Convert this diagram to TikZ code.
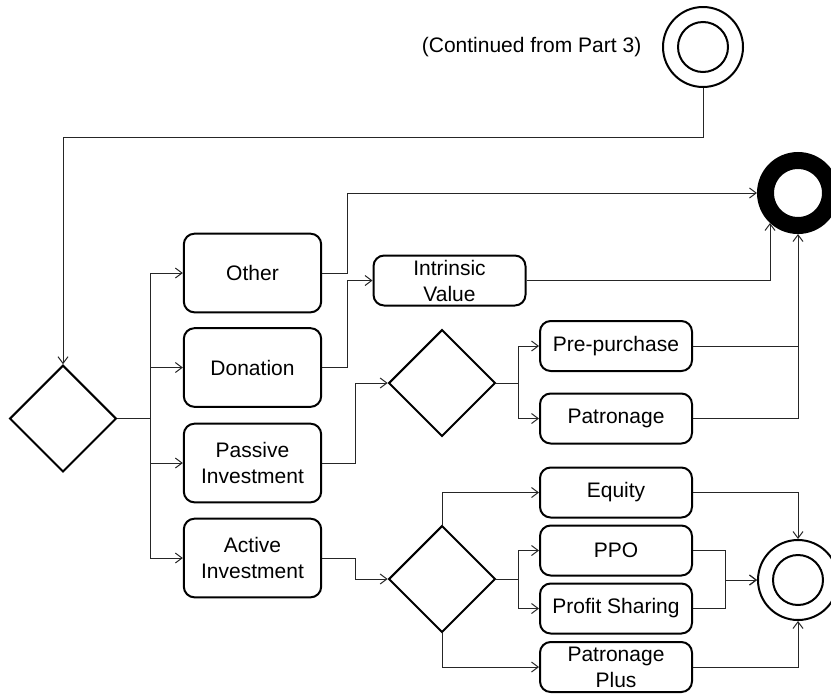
\documentclass[tikz,border=0pt]{standalone}
\usepackage{fontspec}
\setmainfont{Liberation Sans}
\usetikzlibrary{shapes.geometric,arrows.meta,positioning}

\newcommand{\flowfont}{\fontsize{15.75}{19.5}\selectfont}

\tikzset{
  bigbox/.style={draw,line width=1.5pt,rounded corners=8pt,align=center,inner sep=0pt,
    minimum width=103pt,minimum height=59pt,font=\flowfont},
  smallbox/.style={draw,line width=1.5pt,rounded corners=8pt,align=center,inner sep=0pt,
    minimum width=114pt,minimum height=37.5pt,font=\flowfont},
  gate/.style={draw,diamond,aspect=1,line width=1.5pt,inner sep=0pt,minimum width=80pt,minimum height=80pt},
  ringout/.style={draw,circle,line width=1.5pt,inner sep=0pt,minimum size=60pt},
  ringin/.style={draw,circle,line width=1.5pt,inner sep=0pt,minimum size=37.5pt},
  conn/.style={line width=0.75pt,draw=black!85},
  arr/.style={conn,-{Straight Barb[length=5pt,width=7.5pt]}}
}

\begin{document}
\begin{tikzpicture}[x=0.75pt,y=0.75pt,yscale=-1]

\clip (0,0) rectangle (831,693);

\node[ringout] (start) at (703,47) {};
\node[ringin] (startin) at (703,47) {};
\node[left=12pt of start,font=\flowfont] (note) {(Continued from Part 3)};

\node[draw,circle,line width=12.75pt,outer sep=6.4pt,inner sep=0pt,minimum size=48.75pt] (done) at (798,193) {};

\node[gate] (choice) at (63,418.5) {};
\node[bigbox] (other) at (252.5,273) {Other};
\node[bigbox] (donation) at (252.5,367.5) {Donation};
\node[bigbox] (passive) at (252.5,463) {Passive\\Investment};
\node[bigbox] (active) at (252.5,558) {Active\\Investment};

\node[smallbox] (intrinsic) at (449.5,280.5) {Intrinsic\\Value};
\node[gate] (passchoice) at (442,383) {};
\node[smallbox] (prepurchase) at (616,346) {Pre-purchase};
\node[smallbox] (patronage) at (616,418.5) {Patronage};

\node[gate] (actchoice) at (442,579) {};
\node[smallbox] (equity) at (616,492.5) {Equity};
\node[smallbox] (ppo) at (616,550.5) {PPO};
\node[smallbox] (profit) at (616,608.5) {Profit Sharing};
\node[smallbox] (patplus) at (616,667) {Patronage\\Plus};

\node[ringout] (finish) at (798,580) {};
\node[ringin] (finishin) at (798,580) {};

\coordinate (jA) at (150,0);
\coordinate (jB) at (347,0);
\coordinate (jC) at (355,0);
\coordinate (jD) at (518,0);
\coordinate (jE) at (725,0);

\draw[arr] (start.south) -- ++(0,49) -| (choice.north);

\draw[arr] (choice.east) -- (choice.east -| jA) |- (other.west);
\draw[arr] (choice.east) -- (choice.east -| jA) |- (donation.west);
\draw[arr] (choice.east) -- (choice.east -| jA) |- (passive.west);
\draw[arr] (choice.east) -- (choice.east -| jA) |- (active.west);

\draw[arr] (other.east) -- (other.east -| jB) |- (done.west);
\draw[arr] (donation.east) -- (donation.east -| jB) |- (intrinsic.west);
\draw[arr] (intrinsic.east) -| (done.-133);

\draw[arr] (passive.east) -- (passive.east -| jC) |- (passchoice.west);
\draw[arr] (passchoice.east) -- (passchoice.east -| jD) |- (prepurchase.west);
\draw[arr] (passchoice.east) -- (passchoice.east -| jD) |- (patronage.west);
\draw[arr] (prepurchase.east) -| (done.south);
\draw[conn] (patronage.east) -| (prepurchase.east -| done.south);

\draw[arr] (active.east) -- (active.east -| jC) |- (actchoice.west);
\draw[arr] (actchoice.north) |- (equity.west);
\draw[arr] (actchoice.east) -- (actchoice.east -| jD) |- (ppo.west);
\draw[arr] (actchoice.east) -- (actchoice.east -| jD) |- (profit.west);
\draw[arr] (actchoice.south) |- (patplus.west);

\draw[arr] (equity.east) -| (finish.north);
\draw[arr] (ppo.east) -- (ppo.east -| jE) |- (finish.west);
\draw[arr] (profit.east) -- (profit.east -| jE) |- (finish.west);
\draw[arr] (patplus.east) -| (finish.south);

\end{tikzpicture}
\end{document}
